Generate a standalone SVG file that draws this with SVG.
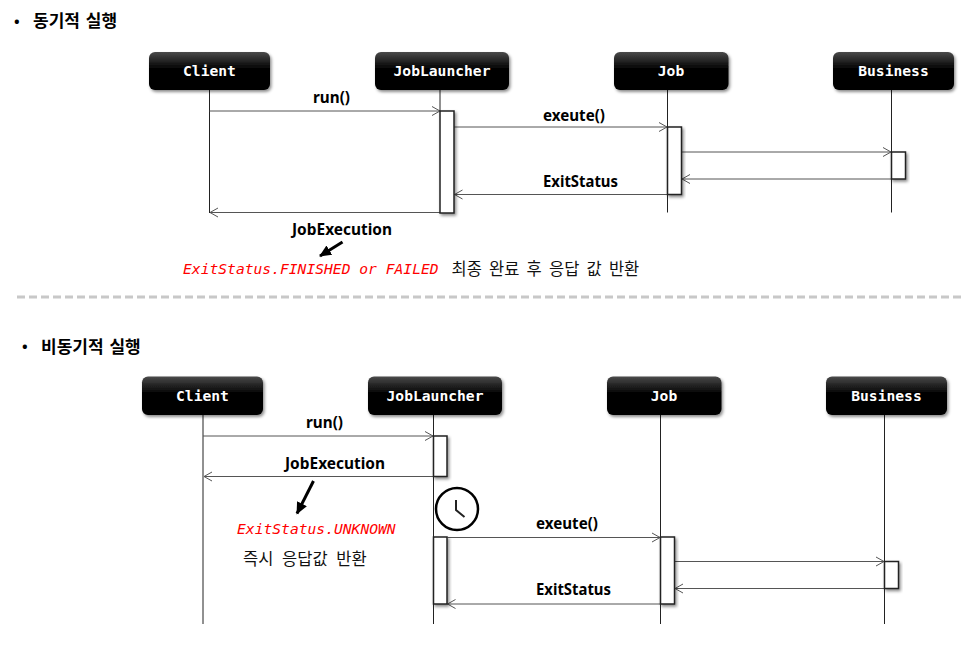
<svg xmlns="http://www.w3.org/2000/svg" width="965" height="651" viewBox="0 0 965 651">
<style>
.head{font:700 17px "Noto Sans CJK KR","Noto Sans",sans-serif;fill:#000;word-spacing:2px}
.bul{font:700 15px "Noto Sans",sans-serif;fill:#000}
.lbl{font:700 16px "Noto Sans","Noto Sans CJK KR",sans-serif;fill:#000}
.name{font:700 14.65px "DejaVu Sans Mono",monospace;fill:#fff;text-anchor:middle}
.red{font:italic 14.65px "DejaVu Sans Mono",monospace;fill:#f00}
.kr{font:16.5px "Noto Sans CJK KR",sans-serif;fill:#111}
.box{fill:url(#g);filter:url(#s)}
.life{stroke:#222;stroke-width:1;fill:none}
.act{fill:#fff;stroke:#222;stroke-width:1.5;filter:url(#s)}
.msg{stroke:#555;stroke-width:1;fill:none;marker-end:url(#a)}
.big{stroke:#000;stroke-width:3;fill:none;marker-end:url(#b)}
</style>
<defs>
<linearGradient id="g" x1="0" y1="0" x2="0" y2="1"><stop offset="0" stop-color="#4a4a4a"/><stop offset=".45" stop-color="#000"/><stop offset="1" stop-color="#000"/></linearGradient>
<filter id="s" x="-20%" y="-20%" width="150%" height="150%"><feDropShadow dx="1.5" dy="2" stdDeviation="1.5" flood-color="#000" flood-opacity=".45"/></filter>
<marker id="a" markerUnits="userSpaceOnUse" markerWidth="12" markerHeight="12" refX="9" refY="6" orient="auto"><path d="M1 1.5L9 6L1 10.5" fill="none" stroke="#555"/></marker>
<marker id="b" markerUnits="userSpaceOnUse" markerWidth="14" markerHeight="14" refX="11" refY="7" orient="auto"><path d="M0 1.5L12 7L0 12.5z" fill="#000"/></marker>
</defs>
<rect width="965" height="651" fill="#fff"/>
<text class="bul" x="14" y="27">•</text><text class="head" x="33" y="27">동기적 실행</text>
<g id="connectors-sync">
<path class="life" d="M209.5 90V213M440 90V111M667.500 90V212.500M891.500 90V212.500"/>
<path class="msg" d="M209.500 111H440"/>
<path class="msg" d="M454 127H667"/>
<path class="msg" d="M681.500 152H891"/>
<path class="msg" d="M891 179H682"/>
<path class="msg" d="M667 194.500H454.500"/>
<path class="msg" d="M440 212.500H210"/>
<path class="big" d="M342.500 242L320 256"/>
</g>
<g id="client1"><rect class="box" x="149" y="52" width="121" height="38" rx="6"/><text class="name" x="209.500" y="76">Client</text></g>
<g id="launcher1"><rect class="box" x="375" y="52" width="134" height="38" rx="6"/><text class="name" x="442" y="76">JobLauncher</text></g>
<g id="job1"><rect class="box" x="614" y="52" width="114.500" height="38" rx="6"/><text class="name" x="671" y="76">Job</text></g>
<g id="business1"><rect class="box" x="833" y="52" width="121" height="38" rx="6"/><text class="name" x="893.500" y="76">Business</text></g>
<g id="activations1">
<rect class="act" x="440" y="111" width="14" height="102"/>
<rect class="act" x="667.500" y="127" width="14" height="67.500"/>
<rect class="act" x="891.500" y="152" width="14" height="27"/>
</g>
<g id="labels1">
<text class="lbl" x="313" y="103" textLength="37" lengthAdjust="spacingAndGlyphs">run()</text>
<text class="lbl" x="543" y="121" textLength="62" lengthAdjust="spacingAndGlyphs">exeute()</text>
<text class="lbl" x="543" y="187" textLength="75" lengthAdjust="spacingAndGlyphs">ExitStatus</text>
<text class="lbl" x="292" y="235" textLength="100" lengthAdjust="spacingAndGlyphs">JobExecution</text>
<text class="red" x="183" y="274">ExitStatus.FINISHED or FAILED</text>
<text class="kr" x="451.500" y="275" style="word-spacing:3.5px">최종 완료 후 응답 값 반환</text>
</g>
<line x1="17" y1="297" x2="965" y2="297" stroke="#c8c8c8" stroke-width="3" stroke-dasharray="8 4"/>
<text class="bul" x="22" y="352">•</text><text class="head" x="41" y="353">비동기적 실행</text>
<g id="connectors-async">
<path class="life" d="M203 415V624M433.500 415V624M660.500 415V624M884.500 415V624"/>
<path class="msg" d="M203 436H433"/>
<path class="msg" d="M433 476.500H204"/>
<path class="msg" d="M447.500 537.500H660"/>
<path class="msg" d="M675 561.500H884"/>
<path class="msg" d="M884 588.500H675"/>
<path class="msg" d="M660 604H447.500"/>
<path class="big" d="M313.500 481L297 513.500"/>
</g>
<g id="client2"><rect class="box" x="142" y="376.500" width="121" height="38.500" rx="6"/><text class="name" x="202.500" y="401">Client</text></g>
<g id="launcher2"><rect class="box" x="368" y="376.500" width="134" height="38.500" rx="6"/><text class="name" x="435" y="401">JobLauncher</text></g>
<g id="job2"><rect class="box" x="607" y="376.500" width="114.500" height="38.500" rx="6"/><text class="name" x="664" y="401">Job</text></g>
<g id="business2"><rect class="box" x="826" y="376.500" width="121" height="38.500" rx="6"/><text class="name" x="886.500" y="401">Business</text></g>
<g id="activations2">
<rect class="act" x="433.500" y="436" width="13.500" height="40.500"/>
<rect class="act" x="433.500" y="537" width="13.500" height="67"/>
<rect class="act" x="660.500" y="537" width="14" height="67"/>
<rect class="act" x="884.500" y="561.500" width="14" height="27"/>
</g>
<g id="clock"><circle cx="457" cy="509" r="21" fill="#fff" stroke="#000" stroke-width="2.500"/><path d="M456 500V510L464.500 517" fill="none" stroke="#222" stroke-width="2"/></g>
<g id="labels2">
<text class="lbl" x="306" y="428" textLength="37" lengthAdjust="spacingAndGlyphs">run()</text>
<text class="lbl" x="285" y="469" textLength="100" lengthAdjust="spacingAndGlyphs">JobExecution</text>
<text class="lbl" x="536" y="529" textLength="62" lengthAdjust="spacingAndGlyphs">exeute()</text>
<text class="lbl" x="536" y="595" textLength="75" lengthAdjust="spacingAndGlyphs">ExitStatus</text>
<text class="red" x="237" y="534">ExitStatus.UNKNOWN</text>
<text class="kr" x="243" y="565" style="word-spacing:5px">즉시 응답값 반환</text>
</g>
</svg>
